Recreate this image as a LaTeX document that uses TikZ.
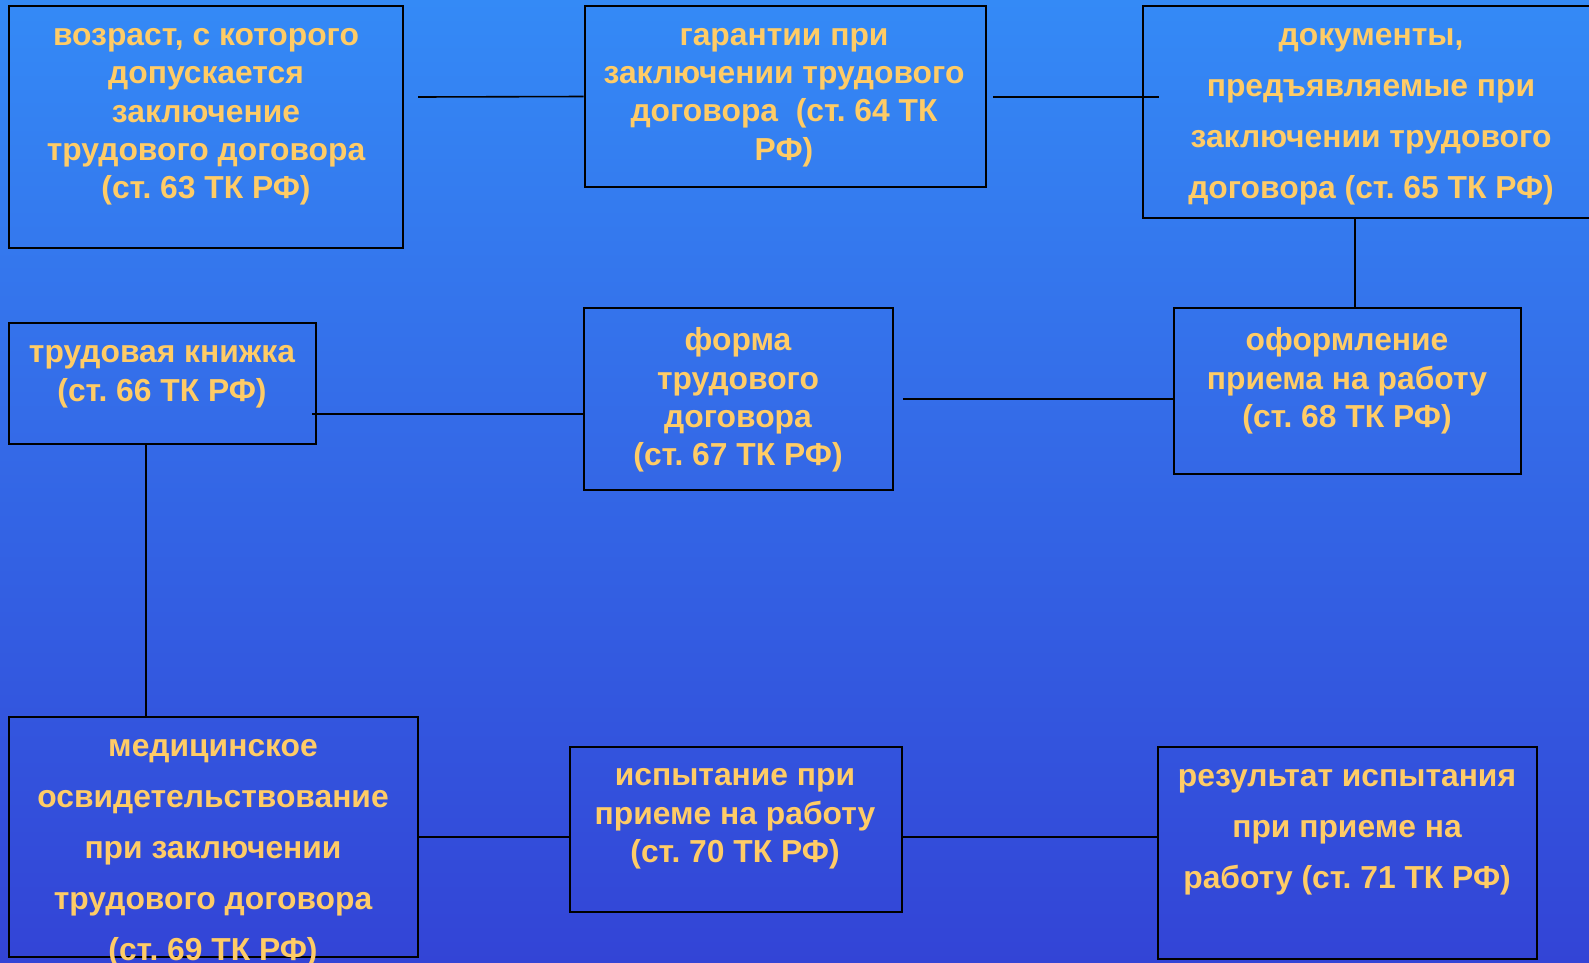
\documentclass[tikz,border=0pt]{standalone}
\usepackage{fontspec}
\setmainfont{Liberation Sans}
\frenchspacing
\definecolor{bgtop}{RGB}{52,138,246}
\definecolor{bgbot}{RGB}{51,68,214}
\definecolor{txt}{RGB}{255,204,102}
\newcommand\mystrut{\rule[-10pt]{0pt}{36pt}}
\tikzset{
  box/.style={draw=black, line width=2.6pt, inner sep=0pt, rectangle},
  lbl/.style={text=txt, align=center, inner sep=0pt, font=\bfseries\frenchspacing\fontsize{31.8}{38.3}\selectfont,
    execute at begin node=\mystrut, execute at end node=\mystrut},
  lblw/.style={lbl, font=\bfseries\frenchspacing\fontsize{31.8}{51}\selectfont},
  conn/.style={draw=black, line width=1.6pt},
}
\begin{document}
\begin{tikzpicture}[x=1pt,y=-1pt]
\shade[top color=bgtop, bottom color=bgbot] (0,0) rectangle (1589,962);
\useasboundingbox (0,0) rectangle (1589,962);
\clip (0,0) rectangle (1589,962);
% boxes
\node[box, minimum width=394, minimum height=242] (b1) at (206,127) {};
\node[box, minimum width=401, minimum height=181] (b2) at (785.5,96.5) {};
\node[box, minimum width=456, minimum height=212] (b3) at (1371,112) {};
\node[box, minimum width=307, minimum height=121] (b4) at (162.5,383.5) {};
\node[box, minimum width=309, minimum height=182] (b5) at (738.5,399) {};
\node[box, minimum width=347, minimum height=166] (b6) at (1347.5,391) {};
\node[box, minimum width=409, minimum height=240] (b7) at (213.5,837) {};
\node[box, minimum width=332, minimum height=165] (b8) at (736,829.5) {};
\node[box, minimum width=379, minimum height=212] (b9) at (1347.5,853) {};
% texts
\node[lbl] (t1) at (206,118.5) {возраст, с которого\\допускается\\заключение\\трудового договора\\(ст. 63 ТК РФ)};
\node[lbl] (t2) at (784,99.25) {гарантии при\\заключении трудового\\договора \ (ст. 64 ТК\\РФ)};
\node[lblw] (t3) at (1371,118.5) {документы,\\предъявляемые при\\заключении трудового\\договора (ст. 65 ТК РФ)};
\node[lbl] (t4) at (162,378.5) {трудовая книжка\\(ст. 66 ТК РФ)};
\node[lbl] (t5) at (738,401.75) {форма\\трудового\\договора\\(ст. 67 ТК РФ)};
\node[lbl] (t6) at (1347,382.5) {оформление\\приема на работу\\(ст. 68 ТК РФ)};
\node[lblw] (t7) at (213,854.5) {медицинское\\освидетельствование\\при заключении\\трудового договора\\(ст. 69 ТК РФ)};
\node[lbl] (t8) at (735,820.5) {испытание при\\приеме на работу\\(ст. 70 ТК РФ)};
\node[lblw] (t9) at (1347,833.5) {результат испытания\\при приеме на\\работу (ст. 71 ТК РФ)};
% connector free ends
\coordinate (c1) at (418,97);
\coordinate (c2a) at (993,97);
\coordinate (c2b) at (1159,97);
\coordinate (c4) at (312,414);
\coordinate (c5) at (903,399);
% connectors
\draw[conn] (c1) -- (b2.west);
\draw[conn] (c2a) -- (c2b);
\draw[conn] (b3.south -| 1355,0) -- (b6.north -| 1355,0);
\draw[conn] (c4) -- (b5.west |- c4);
\draw[conn] (c5) -- (b6.west |- c5);
\draw[conn] (b4.south -| 146,0) -- (b7.north -| 146,0);
\draw[conn] (b7.east) -- (b8.west |- b7.east);
\draw[conn] (b8.east |- b7.east) -- (b9.west |- b7.east);
\end{tikzpicture}
\end{document}
